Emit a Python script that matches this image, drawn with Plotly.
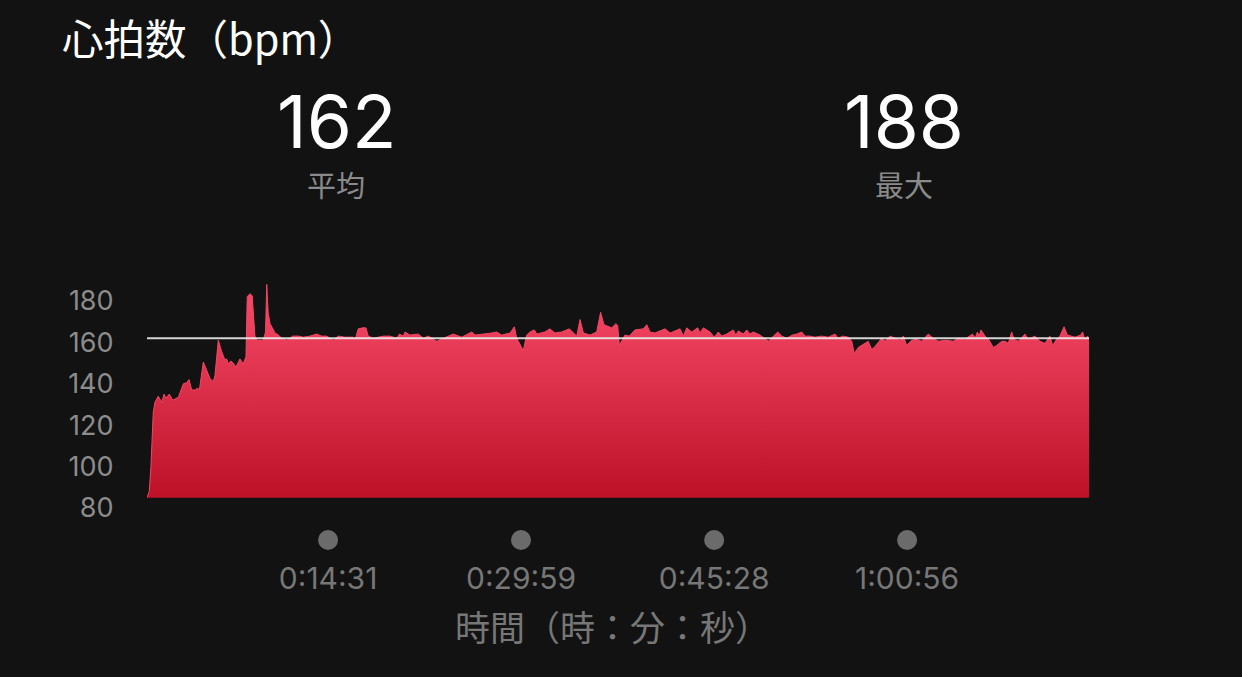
import plotly.graph_objects as go

# ---- data ----
time_s = [0, 11, 19, 30, 38, 54, 71, 82, 91, 107, 124, 151, 175, 191, 202, 215, 236, 242, 252,
          271, 287, 303, 319, 327, 343, 359, 375, 383, 391, 403, 415, 428, 447, 463, 476, 482,
          495, 506, 519, 528, 559, 570, 576, 583, 592, 607, 616, 632, 648, 672, 701, 728, 752,
          784, 816, 840, 864, 896, 920, 952, 992, 1000, 1016, 1038, 1053, 1064, 1089, 1137,
          1169, 1201, 1214, 1233, 1241, 1265, 1305, 1329, 1353, 1393, 1417, 1473, 1514, 1562,
          1578, 1626, 1658, 1682, 1706, 1746, 1767, 1778, 1810, 1826, 1842, 1863, 1875, 1914,
          1938, 1962, 1995, 2031, 2067, 2083, 2099, 2131, 2163, 2182, 2198, 2235, 2256, 2264,
          2272, 2299, 2320, 2347, 2387, 2404, 2419, 2443, 2492, 2516, 2540, 2564, 2580, 2596,
          2620, 2649, 2660, 2676, 2708, 2729, 2748, 2764, 2788, 2820, 2832, 2844, 2868, 2885,
          2900, 2916, 2949, 2973, 2989, 3013, 3034, 3053, 3077, 3104, 3125, 3149, 3165, 3189,
          3213, 3245, 3277, 3309, 3325, 3346, 3373, 3390, 3402, 3421, 3445, 3469, 3486, 3502,
          3518, 3534, 3550, 3574, 3598, 3622, 3638, 3654, 3678, 3702, 3726, 3758, 3782, 3806,
          3842, 3878, 3902, 3934, 3971, 3983, 3994, 4003, 4011, 4031, 4051, 4071, 4087, 4111,
          4127, 4143, 4159, 4170, 4191, 4223, 4239, 4271, 4295, 4319, 4343, 4356, 4375, 4391,
          4411, 4427, 4464, 4491, 4500, 4512, 4523, 4531]
hr = [85, 88, 100, 126, 131, 134, 131, 135, 133, 135, 132, 133.5, 140, 140.5, 142, 137, 137, 138, 137,
      150.5, 146.5, 142.5, 141, 144, 161, 155.5, 151.5, 152, 149.5, 151, 150, 148, 152, 149.5, 153, 182,
      183.5, 182.5, 163, 161, 161, 165, 188, 174, 169, 166, 164.5, 163.5, 162, 161, 163, 163, 162.5,
      163, 164, 163, 163, 161, 163, 162.5, 162.5, 161, 166.5, 167, 167, 163, 162, 163,
      163, 162, 164, 163, 165, 163.5, 164, 162, 163, 160.5, 161.5, 164, 162.5, 165,
      163.5, 164, 164.5, 165, 163.5, 164.5, 167.5, 162, 156, 163.5, 165, 166, 164, 165,
      166.5, 164.5, 165, 166.5, 163, 171, 164.5, 163.5, 165, 174.5, 168.5, 167, 169, 168,
      158.5, 163.5, 163, 166, 166.5, 168.5, 165, 164.5, 166.5, 164.5, 165.5, 166.5, 163, 167,
      165, 167, 164.5, 167, 165, 162.5, 165, 163, 164, 166, 163.5, 165.5, 164, 166,
      164, 165, 163.5, 161.5, 160.5, 163, 165, 163, 162, 163.5, 164, 165, 163, 163,
      162.5, 163, 162.5, 164, 162, 163, 162.5, 160.5, 154.5, 157.5, 159, 160.5, 156.5, 158,
      160, 162, 160.5, 163, 162, 161, 163, 158.5, 161, 161.5, 160.5, 164, 162, 160.5,
      161, 160.5, 162, 161.5, 164, 162, 165, 163, 166, 163, 161, 157.5, 158.5, 160.5,
      160.5, 159.5, 165, 161.5, 160.5, 164, 161.5, 163, 160.5, 159.5, 163, 158.5, 161.5, 163,
      167.5, 163.5, 162.5, 163.5, 165, 161, 163, 162]

avg_hr = 162
max_hr = 188
tick_seconds = [871, 1799, 2728, 3656]
tick_labels = ["0:14:31", "0:29:59", "0:45:28", "1:00:56"]
y_ticks = [80, 100, 120, 140, 160, 180]

title_text = "心拍数（bpm）"
avg_label = "平均"
max_label = "最大"
x_title = "時間（時：分：秒）"

# ---- layout geometry ----
W, H = 1242, 677
L, R, T, B = 147, 153, 280, 157
plot_w = W - L - R
plot_h = H - T - B
BG = "#121212"
FONT = "Inter, Noto Sans CJK JP, sans-serif"
JFONT = "Noto Sans CJK JP, Inter, sans-serif"


def py(pix):
    return (H - B - pix) / plot_h


def px(pix):
    return (pix - L) / plot_w


baseline = min(hr)

fig = go.Figure()
fig.add_trace(go.Scatter(x=[time_s[0], time_s[-1]], y=[baseline, baseline], mode="lines",
                         line=dict(width=0, color="rgba(0,0,0,0)"), hoverinfo="skip",
                         showlegend=False))
fig.add_trace(go.Scatter(
    x=time_s, y=hr, mode="lines", fill="tonexty",
    line=dict(width=1, color="#f24664"),
    fillgradient=dict(type="vertical", start=baseline, stop=180,
                      colorscale=[[0, "#bd1128"], [1, "#f34765"]]),
    showlegend=False,
))

# average line
fig.add_shape(type="line", xref="x", yref="y", x0=time_s[0], x1=time_s[-1], y0=avg_hr, y1=avg_hr,
              line=dict(color="rgba(235,235,235,0.9)", width=2), layer="above")

# time tick dots
r_x = 10 / plot_w * (time_s[-1] - time_s[0])
for t in tick_seconds:
    fig.add_shape(type="circle", xref="x", yref="paper",
                  x0=t - r_x, x1=t + r_x, y0=py(550), y1=py(530),
                  fillcolor="#6b6b6b", line=dict(width=0))

ann = []
ann.append(dict(text=title_text, x=px(60), y=py(37), xanchor="left", yanchor="middle",
                font=dict(size=41.5, color="#ffffff", family=JFONT)))
ann.append(dict(text=str(avg_hr), x=px(336), y=py(122), xanchor="center", yanchor="middle",
                font=dict(size=73, color="#ffffff", family=FONT)))
ann.append(dict(text=avg_label, x=px(336), y=py(184), xanchor="center", yanchor="middle",
                font=dict(size=29, color="#8a8a8a", family=JFONT)))
ann.append(dict(text=str(max_hr), x=px(904), y=py(122), xanchor="center", yanchor="middle",
                font=dict(size=73, color="#ffffff", family=FONT)))
ann.append(dict(text=max_label, x=px(904), y=py(184), xanchor="center", yanchor="middle",
                font=dict(size=29, color="#8a8a8a", family=JFONT)))
ann.append(dict(text=x_title, x=px(612), y=py(625), xanchor="center", yanchor="middle",
                font=dict(size=35, color="#777777", family=JFONT)))
for a in ann:
    a.update(xref="paper", yref="paper", showarrow=False)

fig.update_layout(
    width=W, height=H,
    margin=dict(l=L, r=R, t=T, b=B),
    paper_bgcolor=BG, plot_bgcolor=BG,
    annotations=ann,
    xaxis=dict(range=[time_s[0], time_s[-1]], tickvals=tick_seconds, ticktext=tick_labels,
               showgrid=False, zeroline=False, showline=False,
               ticks="outside", ticklen=32, tickcolor=BG,
               tickfont=dict(size=30, color="#777777", family=FONT)),
    yaxis=dict(range=[74.2, 190.1], tickvals=y_ticks, showgrid=False, zeroline=False,
               showline=False, ticks="outside", ticklen=27, tickcolor=BG,
               tickfont=dict(size=27, color="#8c8c8c", family=FONT)),
    showlegend=False,
)

fig.write_html("out.html", config={"displayModeBar": False},
               post_script="document.body.style.margin='0';document.body.style.background='#121212';")
